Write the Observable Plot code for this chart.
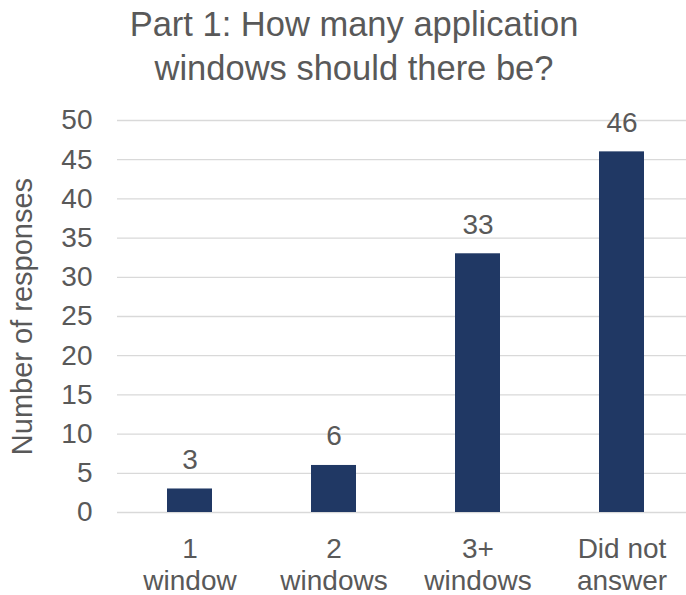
<!DOCTYPE html>
<html><head><meta charset="utf-8">
<script src="https://cdn.jsdelivr.net/npm/d3@7"></script>
<script src="https://cdn.jsdelivr.net/npm/@observablehq/plot@0.6"></script>
<style>
body{margin:0;background:#fff;width:686px;height:595px;overflow:hidden;font-family:"Liberation Sans",Arial,sans-serif;}
#title{height:95px;box-sizing:border-box;padding-top:2px;padding-left:22px;text-align:center;font-size:34.5px;line-height:44px;color:#595959;white-space:nowrap;}
</style></head><body>
<div id="title">Part 1: How many application<br>windows should there be?</div>
<div id="chart"></div>
<script>
const categories = ["1\nwindow", "2\nwindows", "3+\nwindows", "Did not\nanswer"];
const responses = [3, 6, 33, 46];
const yTicks = [0, 5, 10, 15, 20, 25, 30, 35, 40, 45, 50];
const yLabel = "Number of responses";

const data = categories.map((c, i) => ({category: c, value: responses[i]}));
const textColor = "#595959";

const chart = Plot.plot({
  width: 686, height: 500,
  marginLeft: 117, marginRight: -7, marginTop: 25, marginBottom: 83,
  style: {fontFamily: "'Liberation Sans', Arial, sans-serif", fontSize: "28px", color: textColor, background: "white"},
  x: {domain: categories, paddingInner: 0.6875, paddingOuter: 0.34375, align: 0.5, label: null},
  y: {domain: [0, 50], label: null},
  marks: [
    Plot.ruleY(yTicks, {stroke: "#d9d9d9", strokeWidth: 1.3}),
    Plot.barY(data, {x: "category", y: "value", fill: "#203864"}),
    Plot.text(data, {x: "category", y: "value", text: d => String(d.value), dy: -20, lineAnchor: "bottom", fill: textColor, fontSize: 28}),
    Plot.axisX({tickSize: 0, tickPadding: 23, lineHeight: 1.14, label: null, fontSize: 28}),
    Plot.axisY(yTicks, {tickSize: 0, tickPadding: 25, label: null, fontSize: 28}),
    Plot.text([yLabel], {frameAnchor: "left", textAnchor: "middle", rotate: -90, dx: -86, lineAnchor: "bottom", fill: textColor, fontSize: 29})
  ]
});
document.getElementById("chart").appendChild(chart);
</script>
</body></html>
